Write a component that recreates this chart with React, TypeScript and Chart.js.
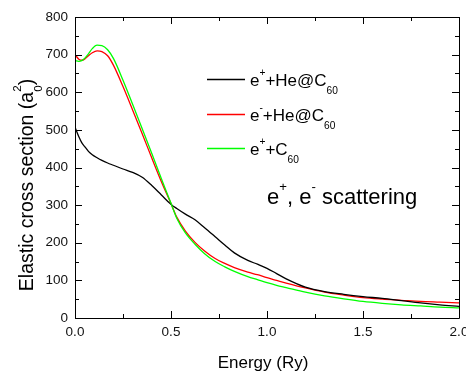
import React, { useEffect, useRef } from "react";
import { Chart, registerables } from "chart.js";

Chart.register(...registerables);

const energy = [
  0, 0.02, 0.035, 0.05, 0.07, 0.09, 0.115, 0.14, 0.17, 0.2, 0.25, 0.3, 0.35, 0.4, 0.45, 0.5,
  0.53, 0.575, 0.625, 0.675, 0.73, 0.78, 0.83, 0.9, 0.95, 1.0, 1.05, 1.1, 1.2, 1.3, 1.4, 1.5,
  1.6, 1.7, 1.8, 1.9, 2.0,
];
const positronHeC60 = [
  507, 482, 466, 456, 443, 434, 426, 419, 412, 406, 396, 387, 374, 352, 327, 302,
  291, 276, 261, 240, 216, 194, 173, 153, 143, 132, 118, 104, 82, 70, 63, 57,
  52, 46, 40, 35, 31,
];
const electronHeC60 = [
  700, 688, 685, 688, 697, 705, 710, 708, 697, 672, 615, 553, 490, 425, 362, 304,
  268, 231, 201, 178, 158, 145, 134, 122, 115, 107, 100, 93, 80, 69, 61, 54,
  50, 47, 44, 42, 40,
];
const positronC60 = [
  684, 682, 684, 690, 702, 716, 725, 724, 713, 690, 632, 568, 503, 437, 370, 305,
  265, 226, 196, 171, 150, 136, 124, 110, 102, 94, 87, 81, 69, 59, 51, 44,
  39, 35, 32, 29, 27,
];

const xMajorTicks = [0, 0.5, 1, 1.5, 2];
const xMinorTicks = [0.25, 0.75, 1.25, 1.75];
const yMajorTicks = [0, 100, 200, 300, 400, 500, 600, 700, 800];
const yMinorTicks = [50, 150, 250, 350, 450, 550, 650, 750];

const FONT = "'Liberation Sans', Arial, Helvetica, sans-serif";

type Part = { t: string; m?: "sup" | "sub"; keep?: boolean };

function drawRich(
  ctx: CanvasRenderingContext2D,
  parts: Part[],
  x: number,
  y: number,
  size: number,
  align: "left" | "center"
) {
  const small = size * 0.6;
  const widths = parts.map((p) => {
    ctx.font = `${p.m ? small : size}px ${FONT}`;
    return ctx.measureText(p.t).width;
  });
  let total = 0;
  parts.forEach((p, i) => {
    if (!p.keep) total += widths[i];
  });
  let cx = align === "center" ? x - total / 2 : x;
  ctx.textAlign = "left";
  ctx.textBaseline = "alphabetic";
  parts.forEach((p, i) => {
    ctx.font = `${p.m ? small : size}px ${FONT}`;
    const dy = p.m === "sup" ? -size * 0.6 : p.m === "sub" ? size * 0.45 : 0;
    ctx.fillText(p.t, cx, y + dy);
    if (!p.keep) cx += widths[i];
  });
}

const decorPlugin = {
  id: "decor",
  afterDraw(chart: any) {
    const ctx: CanvasRenderingContext2D = chart.ctx;
    const { left, right, top, bottom } = chart.chartArea;
    const xs = chart.scales.x;
    const ys = chart.scales.y;
    ctx.save();
    ctx.strokeStyle = "#000";
    ctx.lineWidth = 1;
    ctx.beginPath();
    ctx.rect(Math.round(left) + 0.5, Math.round(top) + 0.5, Math.round(right - left), Math.round(bottom - top));
    ctx.stroke();

    const tick = (vals: number[], len: number) => {
      vals.forEach((v) => {
        const px = Math.round(xs.getPixelForValue(v)) + 0.5;
        ctx.moveTo(px, bottom);
        ctx.lineTo(px, bottom - len);
        ctx.moveTo(px, top);
        ctx.lineTo(px, top + len);
      });
    };
    const ytick = (vals: number[], len: number) => {
      vals.forEach((v) => {
        const py = Math.round(ys.getPixelForValue(v)) + 0.5;
        ctx.moveTo(left, py);
        ctx.lineTo(left + len, py);
        ctx.moveTo(right, py);
        ctx.lineTo(right - len, py);
      });
    };
    ctx.beginPath();
    tick(xMajorTicks, 7);
    tick(xMinorTicks, 4);
    ytick(yMajorTicks, 7);
    ytick(yMinorTicks, 4);
    ctx.stroke();

    // legend
    const legend: { color: string; parts: Part[]; y: number }[] = [
      { color: "#000000", y: 79, parts: [{ t: "e" }, { t: "+", m: "sup" }, { t: "+He@C" }, { t: "60", m: "sub" }] },
      { color: "#ff0000", y: 114, parts: [{ t: "e" }, { t: "-", m: "sup" }, { t: "+He@C" }, { t: "60", m: "sub" }] },
      { color: "#00ff00", y: 148, parts: [{ t: "e" }, { t: "+", m: "sup" }, { t: "+C" }, { t: "60", m: "sub" }] },
    ];
    legend.forEach((l) => {
      ctx.strokeStyle = l.color;
      ctx.lineWidth = 1.3;
      ctx.beginPath();
      ctx.moveTo(207, l.y + 0.5);
      ctx.lineTo(245, l.y + 0.5);
      ctx.stroke();
      ctx.fillStyle = "#000";
      drawRich(ctx, l.parts, 250, l.y + 7, 17, "left");
    });

    // annotation
    ctx.fillStyle = "#000";
    drawRich(
      ctx,
      [{ t: "e" }, { t: "+", m: "sup" }, { t: ", e" }, { t: "-", m: "sup" }, { t: " scattering" }],
      267,
      204,
      22,
      "left"
    );

    // x title
    drawRich(ctx, [{ t: "Energy (Ry)" }], (left + right) / 2 - 4, 368, 17, "center");

    // y title
    ctx.save();
    ctx.translate(33, 185);
    ctx.rotate(-Math.PI / 2);
    drawRich(
      ctx,
      [
        { t: "Elastic cross section (a" },
        { t: "0", m: "sub", keep: true },
        { t: "2", m: "sup" },
        { t: ")" },
      ],
      0,
      0,
      19.5,
      "center"
    );
    ctx.restore();
    ctx.restore();
  },
};

export default function App() {
  const ref = useRef<HTMLCanvasElement | null>(null);
  useEffect(() => {
    if (!ref.current) return;
    const mk = (vals: number[]) => energy.map((e, i) => ({ x: e, y: vals[i] }));
    const tickFont = { family: FONT, size: 13.5 };
    const chart = new Chart(ref.current, {
      type: "line",
      data: {
        datasets: [
          { label: "e+ + He@C60", data: mk(positronHeC60), borderColor: "#000000", order: 1 },
          { label: "e- + He@C60", data: mk(electronHeC60), borderColor: "#ff0000", order: 2 },
          { label: "e+ + C60", data: mk(positronC60), borderColor: "#00ff00", order: 0 },
        ].map((d) => ({
          ...d,
          borderWidth: 1.3,
          pointRadius: 0,
          fill: false,
          cubicInterpolationMode: "monotone" as const,
        })),
      },
      options: {
        animation: false,
        responsive: false,
        layout: { padding: { left: 0, right: 7, top: 17, bottom: 0 } },
        plugins: { legend: { display: false }, tooltip: { enabled: false } },
        scales: {
          x: {
            type: "linear",
            min: 0,
            max: 2,
            grid: { display: false, drawTicks: false },
            border: { display: false },
            ticks: {
              stepSize: 0.5,
              padding: 6,
              color: "#111",
              font: tickFont,
              maxRotation: 0,
              autoSkip: false,
              callback: (v: any) => Number(v).toFixed(1),
            },
            afterFit: (s: any) => {
              s.height = 55;
              s.paddingLeft = 0;
              s.paddingRight = 0;
            },
          },
          y: {
            min: 0,
            max: 800,
            grid: { display: false, drawTicks: false },
            border: { display: false },
            ticks: { stepSize: 100, padding: 7, color: "#111", font: tickFont },
            afterFit: (s: any) => {
              s.width = 75;
              s.paddingTop = 0;
              s.paddingBottom = 0;
            },
          },
        },
      },
      plugins: [decorPlugin],
    });
    return () => chart.destroy();
  }, []);
  return (
    <div style={{ position: "fixed", left: 0, top: 0, width: 466, height: 373, background: "#fff" }}>
      <canvas ref={ref} width={466} height={373} style={{ display: "block" }} />
    </div>
  );
}
